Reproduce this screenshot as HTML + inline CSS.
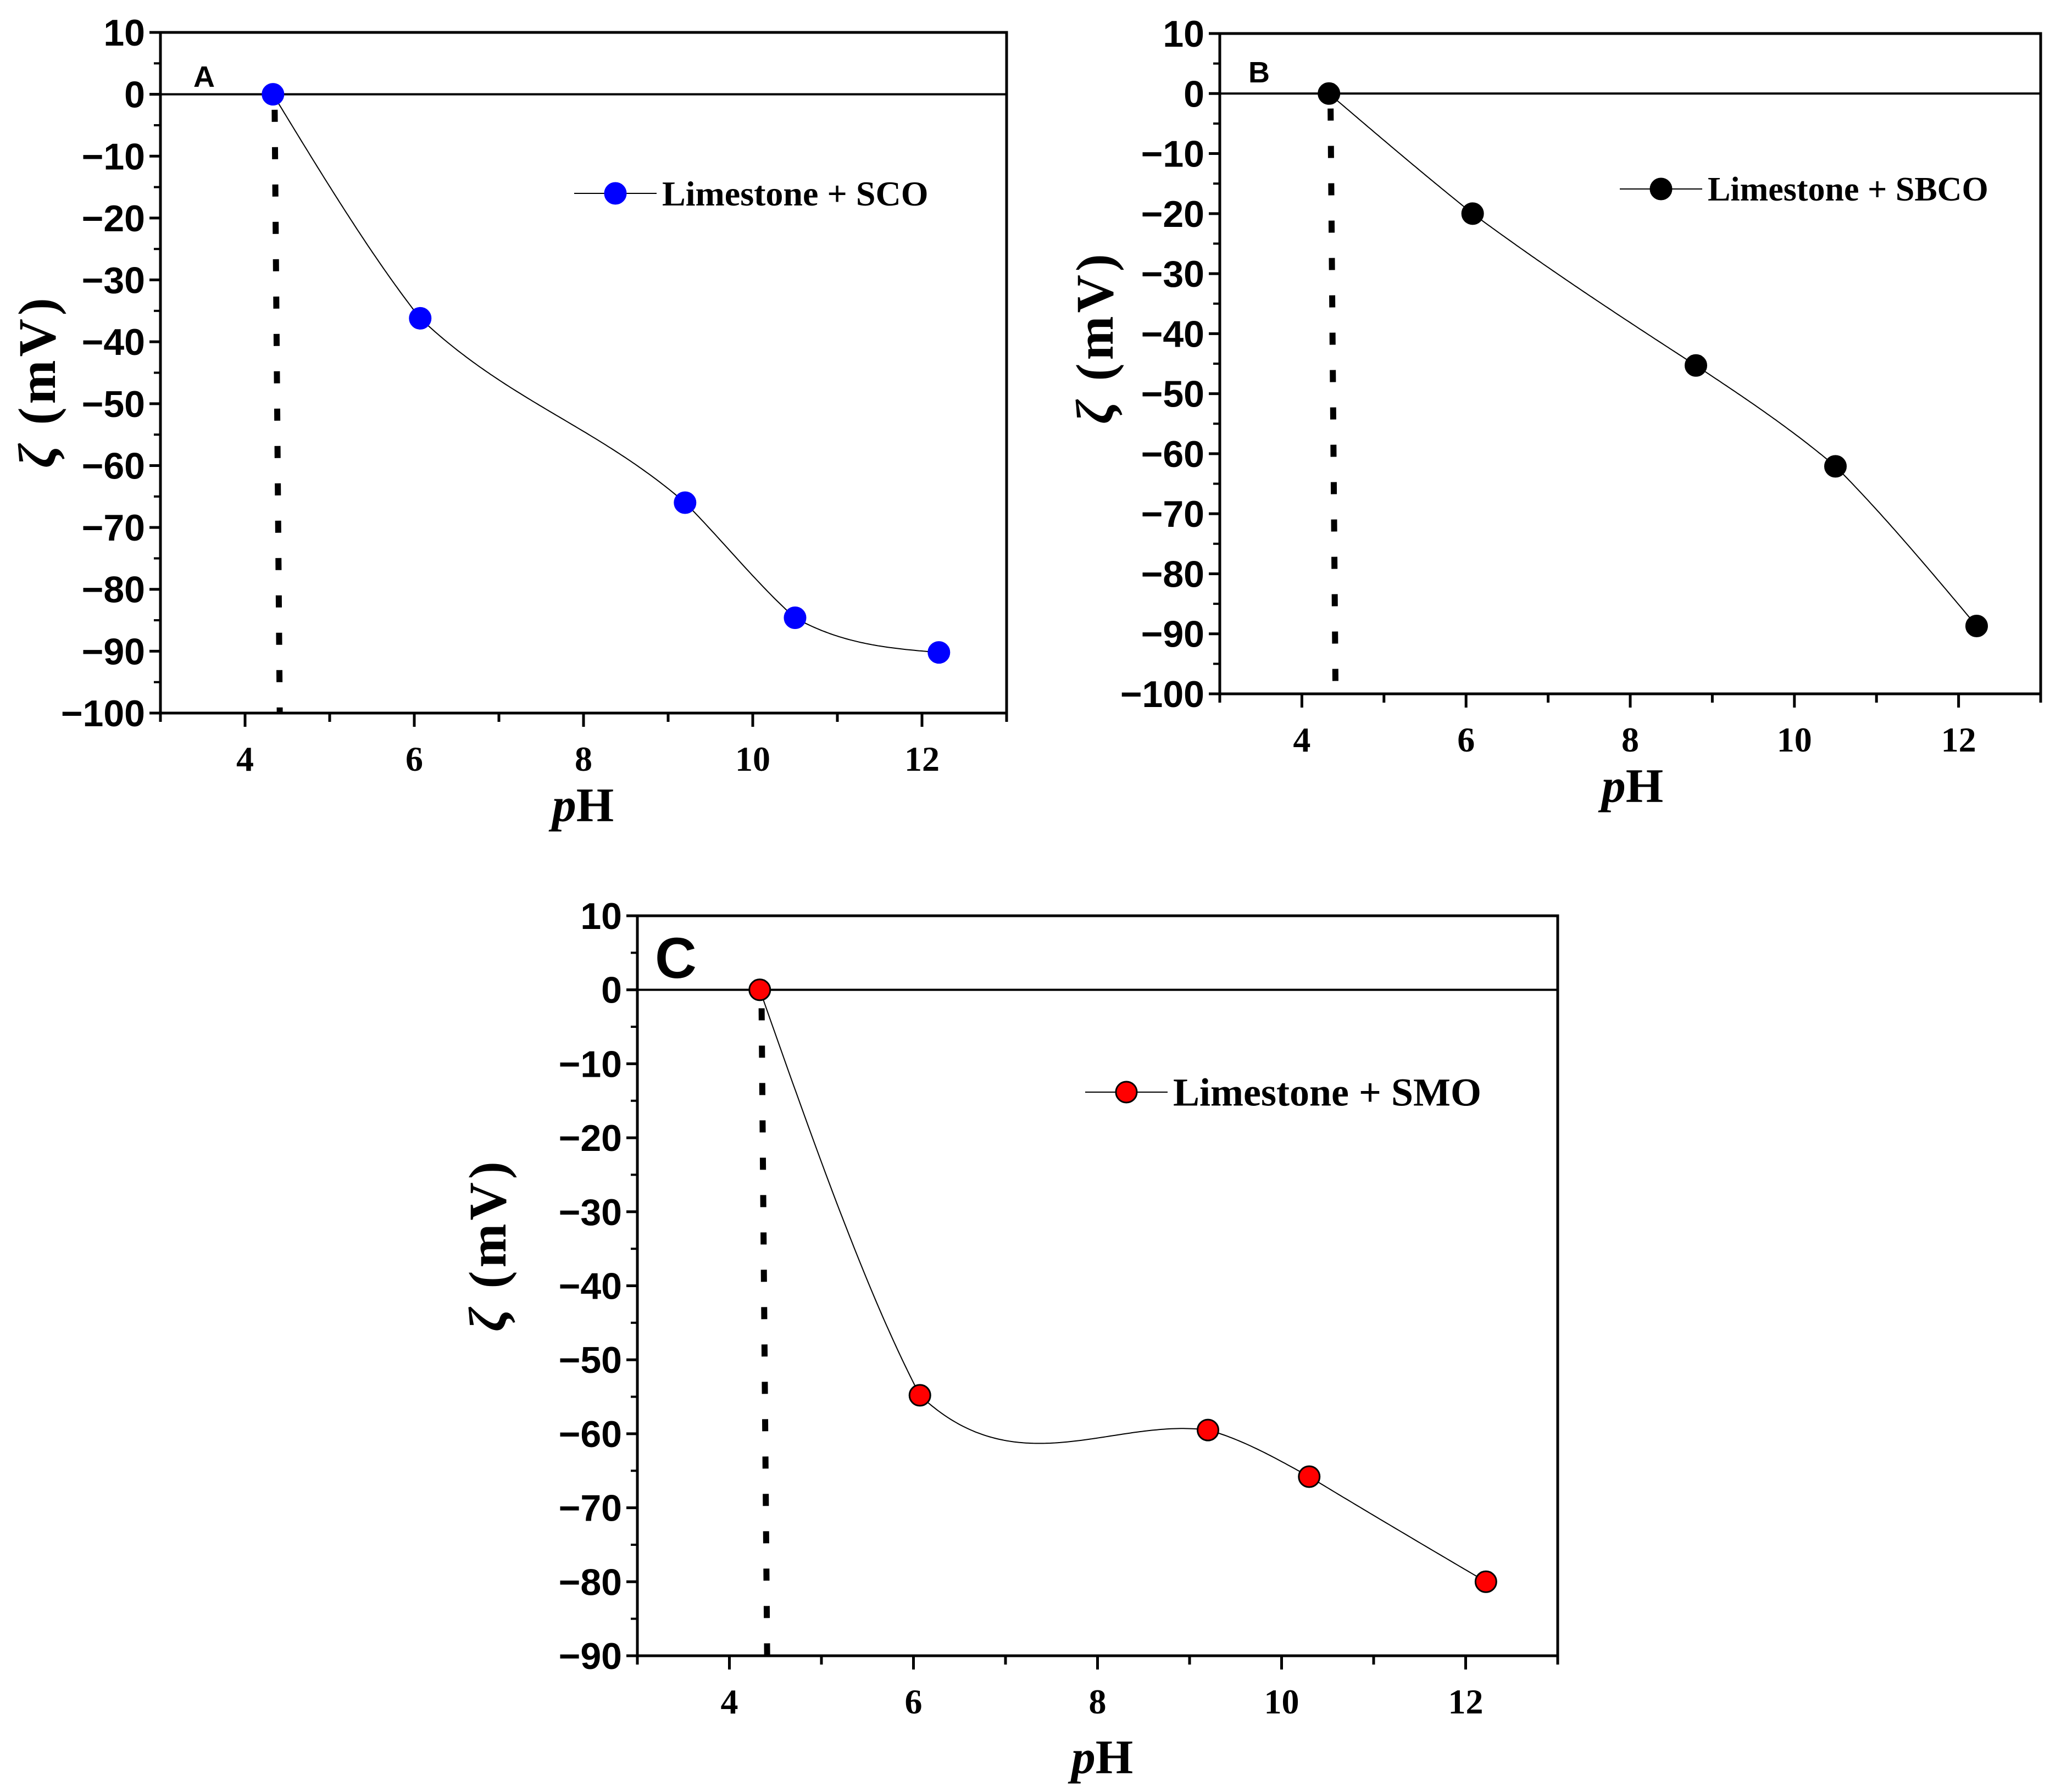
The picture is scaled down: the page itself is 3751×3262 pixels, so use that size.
<!DOCTYPE html>
<html><head><meta charset="utf-8"><style>
html,body{margin:0;padding:0;background:#fff}
svg{display:block}
.yt{font-family:"Liberation Sans",sans-serif;font-weight:bold;font-size:68px}
.xt{font-family:"Liberation Serif",serif;font-weight:bold;font-size:64px}
.ti{font-family:"Liberation Serif",serif;font-weight:bold;font-size:88px}
.yti{font-family:"Liberation Serif",serif;font-weight:bold;font-size:96px;letter-spacing:6px}
.lg{font-family:"Liberation Serif",serif;font-weight:bold}
.pl{font-family:"Liberation Sans",sans-serif;font-weight:bold}
</style></head><body>
<svg id="fig" width="3751" height="3262" viewBox="0 0 3751 3262" xmlns="http://www.w3.org/2000/svg"></svg>
<script>
const phA = [4.33, 6.07, 9.2, 10.5, 12.2];
const zetaA = [0, -36.2, -66, -84.6, -90.2];
const phB = [4.33, 6.08, 8.8, 10.5, 12.22];
const zetaB = [0, -20, -45.3, -62.1, -88.7];
const phC = [4.33, 6.07, 9.2, 10.3, 12.22];
const zetaC = [0, -54.8, -59.5, -65.8, -80];
const xTicks = [4, 6, 8, 10, 12];
const yTicksAB = [10, 0, -10, -20, -30, -40, -50, -60, -70, -80, -90, -100];
const yTicksC = [10, 0, -10, -20, -30, -40, -50, -60, -70, -80, -90];
const iepPh = 4.35;

const NS = "http://www.w3.org/2000/svg";
const svg = document.getElementById('fig');
function mk(tag, attrs, parent, text){
  const e = document.createElementNS(NS, tag);
  for (const k in attrs) e.setAttribute(k, attrs[k]);
  if (text !== undefined) e.textContent = text;
  (parent || svg).appendChild(e);
  return e;
}
function spline(xs, ys){
  const n = xs.length, h = [], a = [], l = [1], mu = [0], z = [0], c = new Array(n).fill(0), b = [], d = [];
  for (let i = 0; i < n-1; i++) h.push(xs[i+1]-xs[i]);
  for (let i = 1; i < n-1; i++) a[i] = 3/h[i]*(ys[i+1]-ys[i]) - 3/h[i-1]*(ys[i]-ys[i-1]);
  for (let i = 1; i < n-1; i++){ l[i] = 2*(xs[i+1]-xs[i-1]) - h[i-1]*mu[i-1]; mu[i] = h[i]/l[i]; z[i] = (a[i]-h[i-1]*z[i-1])/l[i]; }
  l[n-1] = 1; z[n-1] = 0;
  for (let j = n-2; j >= 0; j--){ c[j] = z[j] - mu[j]*c[j+1]; b[j] = (ys[j+1]-ys[j])/h[j] - h[j]*(c[j+1]+2*c[j])/3; d[j] = (c[j+1]-c[j])/(3*h[j]); }
  return function(x){
    let j = 0; while (j < n-2 && x > xs[j+1]) j++;
    const t = x - xs[j];
    const s = ys[j] + b[j]*t + c[j]*t*t + d[j]*t*t*t;
    const lin = ys[j] + (ys[j+1]-ys[j])*t/h[j];
    return 0.6*s + 0.4*lin;
  };
}
function panel(cfg){
  const g = mk('g', {});
  
  
  const X = v => cfg.x0 + (v-3)/10*(cfg.x1-cfg.x0);
  const Y = v => cfg.y0 + (10-v)/(10-cfg.ymin)*(cfg.y1-cfg.y0);
  const frame = mk('rect', {x:cfg.x0, y:cfg.y0, width:cfg.x1-cfg.x0, height:cfg.y1-cfg.y0, fill:'none', stroke:'#000', 'stroke-width':5}, g);
  
  
  const zl = mk('line', {x1:cfg.x0, x2:cfg.x1, y1:Y(0), y2:Y(0), stroke:'#000', 'stroke-width':4}, g);
  
  
  cfg.yticks.forEach((v, i) => {
    mk('line', {x1:cfg.x0-20, x2:cfg.x0, y1:Y(v), y2:Y(v), stroke:'#000', 'stroke-width':5}, g);
    if (i < cfg.yticks.length-1){ const m = v-5; mk('line', {x1:cfg.x0-12, x2:cfg.x0, y1:Y(m), y2:Y(m), stroke:'#000', 'stroke-width':4}, g); }
    const t = mk('text', {x:cfg.x0-28, y:Y(v)+24, 'text-anchor':'end', class:'yt'}, g, (v<0?'\u2212':'')+Math.abs(v));
    
    
  });
  for (let v = 3; v <= 13; v++){
    const major = v % 2 === 0;
    mk('line', {x1:X(v), x2:X(v), y1:cfg.y1, y2:cfg.y1+(major?25:16), stroke:'#000', 'stroke-width':5}, g);
  }
  xTicks.forEach(v => {
    const t = mk('text', {x:X(v), y:cfg.y1+105, 'text-anchor':'middle', class:'xt'}, g, String(v));
    
    
  });
  const xt = mk('text', {x:cfg.xtx, y:cfg.xty, 'text-anchor':'middle', class:'ti'}, g);
  
  
  mk('tspan', {'font-style':'italic'}, xt, 'p'); mk('tspan', {}, xt, 'H');
  const yt = mk('text', {x:cfg.ytx, y:cfg.yty, 'text-anchor':'middle', class:'yti', transform:`rotate(-90 ${cfg.ytx} ${cfg.yty})`}, g);
  
  
  mk('tspan', {'font-style':'italic'}, yt, '\u03B6'); mk('tspan', {}, yt, ' (mV)');
  const pl = mk('text', {x:cfg.plx, y:cfg.ply, class:'pl', 'font-size':cfg.pls}, g, cfg.label);
  
  
  const dl = mk('line', {x1:X(iepPh), x2:X(iepPh+0.06), y1:Y(-2.5), y2:cfg.y1, stroke:'#000', 'stroke-width':11, 'stroke-dasharray':'22 46'}, g);
  
  
  const f = spline(cfg.xs, cfg.ys);
  let d = '';
  const xa = cfg.xs[0], xb = cfg.xs[cfg.xs.length-1];
  for (let k = 0; k <= 300; k++){ const x = xa + (xb-xa)*k/300; d += (k?'L':'M') + X(x).toFixed(1) + ' ' + Y(f(x)).toFixed(1); }
  const cu = mk('path', {d:d, fill:'none', stroke:'#000', 'stroke-width':2}, g);
  
  
  cfg.xs.forEach((x, i) => {
    const c = mk('circle', {cx:X(x), cy:Y(cfg.ys[i]), r:19, fill:cfg.color, stroke:cfg.mstroke, 'stroke-width':3}, g);
    
    
  });
  const lg = mk('g', {}, g);
  
  
  mk('line', {x1:cfg.lgx, x2:cfg.lgx+150, y1:cfg.lgy, y2:cfg.lgy, stroke:'#000', 'stroke-width':2}, lg);
  mk('circle', {cx:cfg.lgx+75, cy:cfg.lgy, r:19, fill:cfg.color, stroke:cfg.mstroke, 'stroke-width':3}, lg);
  mk('text', {x:cfg.lgx+160, y:cfg.lgy+cfg.lgs*0.34, class:'lg', 'font-size':cfg.lgs}, lg, cfg.legend);
}
panel({name:'panel-a', x0:292, x1:1832, y0:59, y1:1298, ymin:-100, yticks:yTicksAB, xs:phA, ys:zetaA,
  color:'#0000ff', mstroke:'#0000ff', label:'A', plx:352, ply:158, pls:54,
  xtx:1061, xty:1495, ytx:100, yty:694, lgx:1045, lgy:352, lgs:64, legend:'Limestone + SCO'});
panel({name:'panel-b', x0:2220, x1:3714, y0:61, y1:1263, ymin:-100, yticks:yTicksAB, xs:phB, ys:zetaB,
  color:'#000', mstroke:'#000', label:'B', plx:2272, ply:150, pls:54,
  xtx:2971, xty:1460, ytx:2025, yty:614, lgx:2948, lgy:344, lgs:62, legend:'Limestone + SBCO'});
panel({name:'panel-c', x0:1160, x1:2835, y0:1667, y1:3014, ymin:-90, yticks:yTicksC, xs:phC, ys:zetaC,
  color:'#ff0000', mstroke:'#000', label:'C', plx:1192, ply:1780, pls:105,
  xtx:2006, xty:3228, ytx:920, yty:2266, lgx:1975, lgy:1988, lgs:72, legend:'Limestone + SMO'});
</script>
</body></html>
